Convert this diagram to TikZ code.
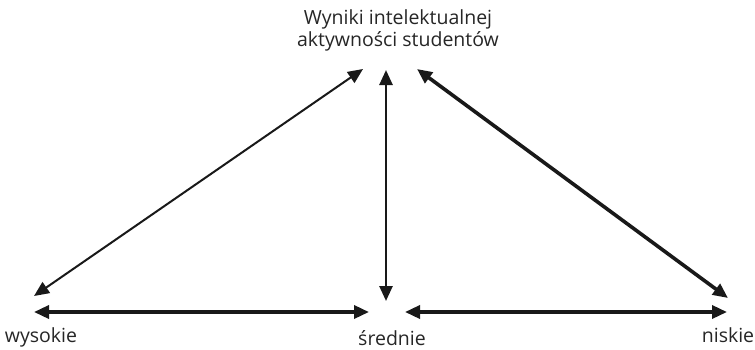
\documentclass[tikz,border=0pt]{standalone}
\usepackage{fontspec}
\setmainfont{Open Sans}
\usetikzlibrary{arrows.meta}
\begin{document}
\begin{tikzpicture}[x=1pt,y=-1pt,
  lbl/.style={font=\fontsize{19.5}{22}\selectfont, text=black!85, inner sep=0pt},
  dbl/.style={{Triangle[length=15pt,width=13pt]}-{Triangle[length=15pt,width=13pt]}, black!90}]
\useasboundingbox (0,0) rectangle (755,349);
\node[lbl, align=center] (top) at (398,30) {Wyniki intelektualnej\\aktywności studentów};
\node[lbl] (wys) at (41,337) {wysokie};
\node[lbl, anchor=south] (sre) at (392,346) {średnie};
\node[lbl] (nis) at (728,335) {niskie};
\coordinate (lA) at (34,296);
\coordinate (lB) at (363,69);
\coordinate (vA) at (386,70);
\coordinate (vB) at (386,301);
\coordinate (rA) at (417,69);
\coordinate (rB) at (728,298);
\coordinate (h1A) at (34,312);
\coordinate (h1B) at (369,312);
\coordinate (h2A) at (405,312);
\coordinate (h2B) at (727,312);
\draw[dbl, line width=2pt] (lA) -- (lB);
\draw[dbl, line width=2.6pt] (vA) -- (vB);
\draw[dbl, line width=3.6pt] (rA) -- (rB);
\draw[dbl, line width=3.4pt] (h1A) -- (h1B);
\draw[dbl, line width=3.4pt] (h2A) -- (h2B);
\end{tikzpicture}
\end{document}
